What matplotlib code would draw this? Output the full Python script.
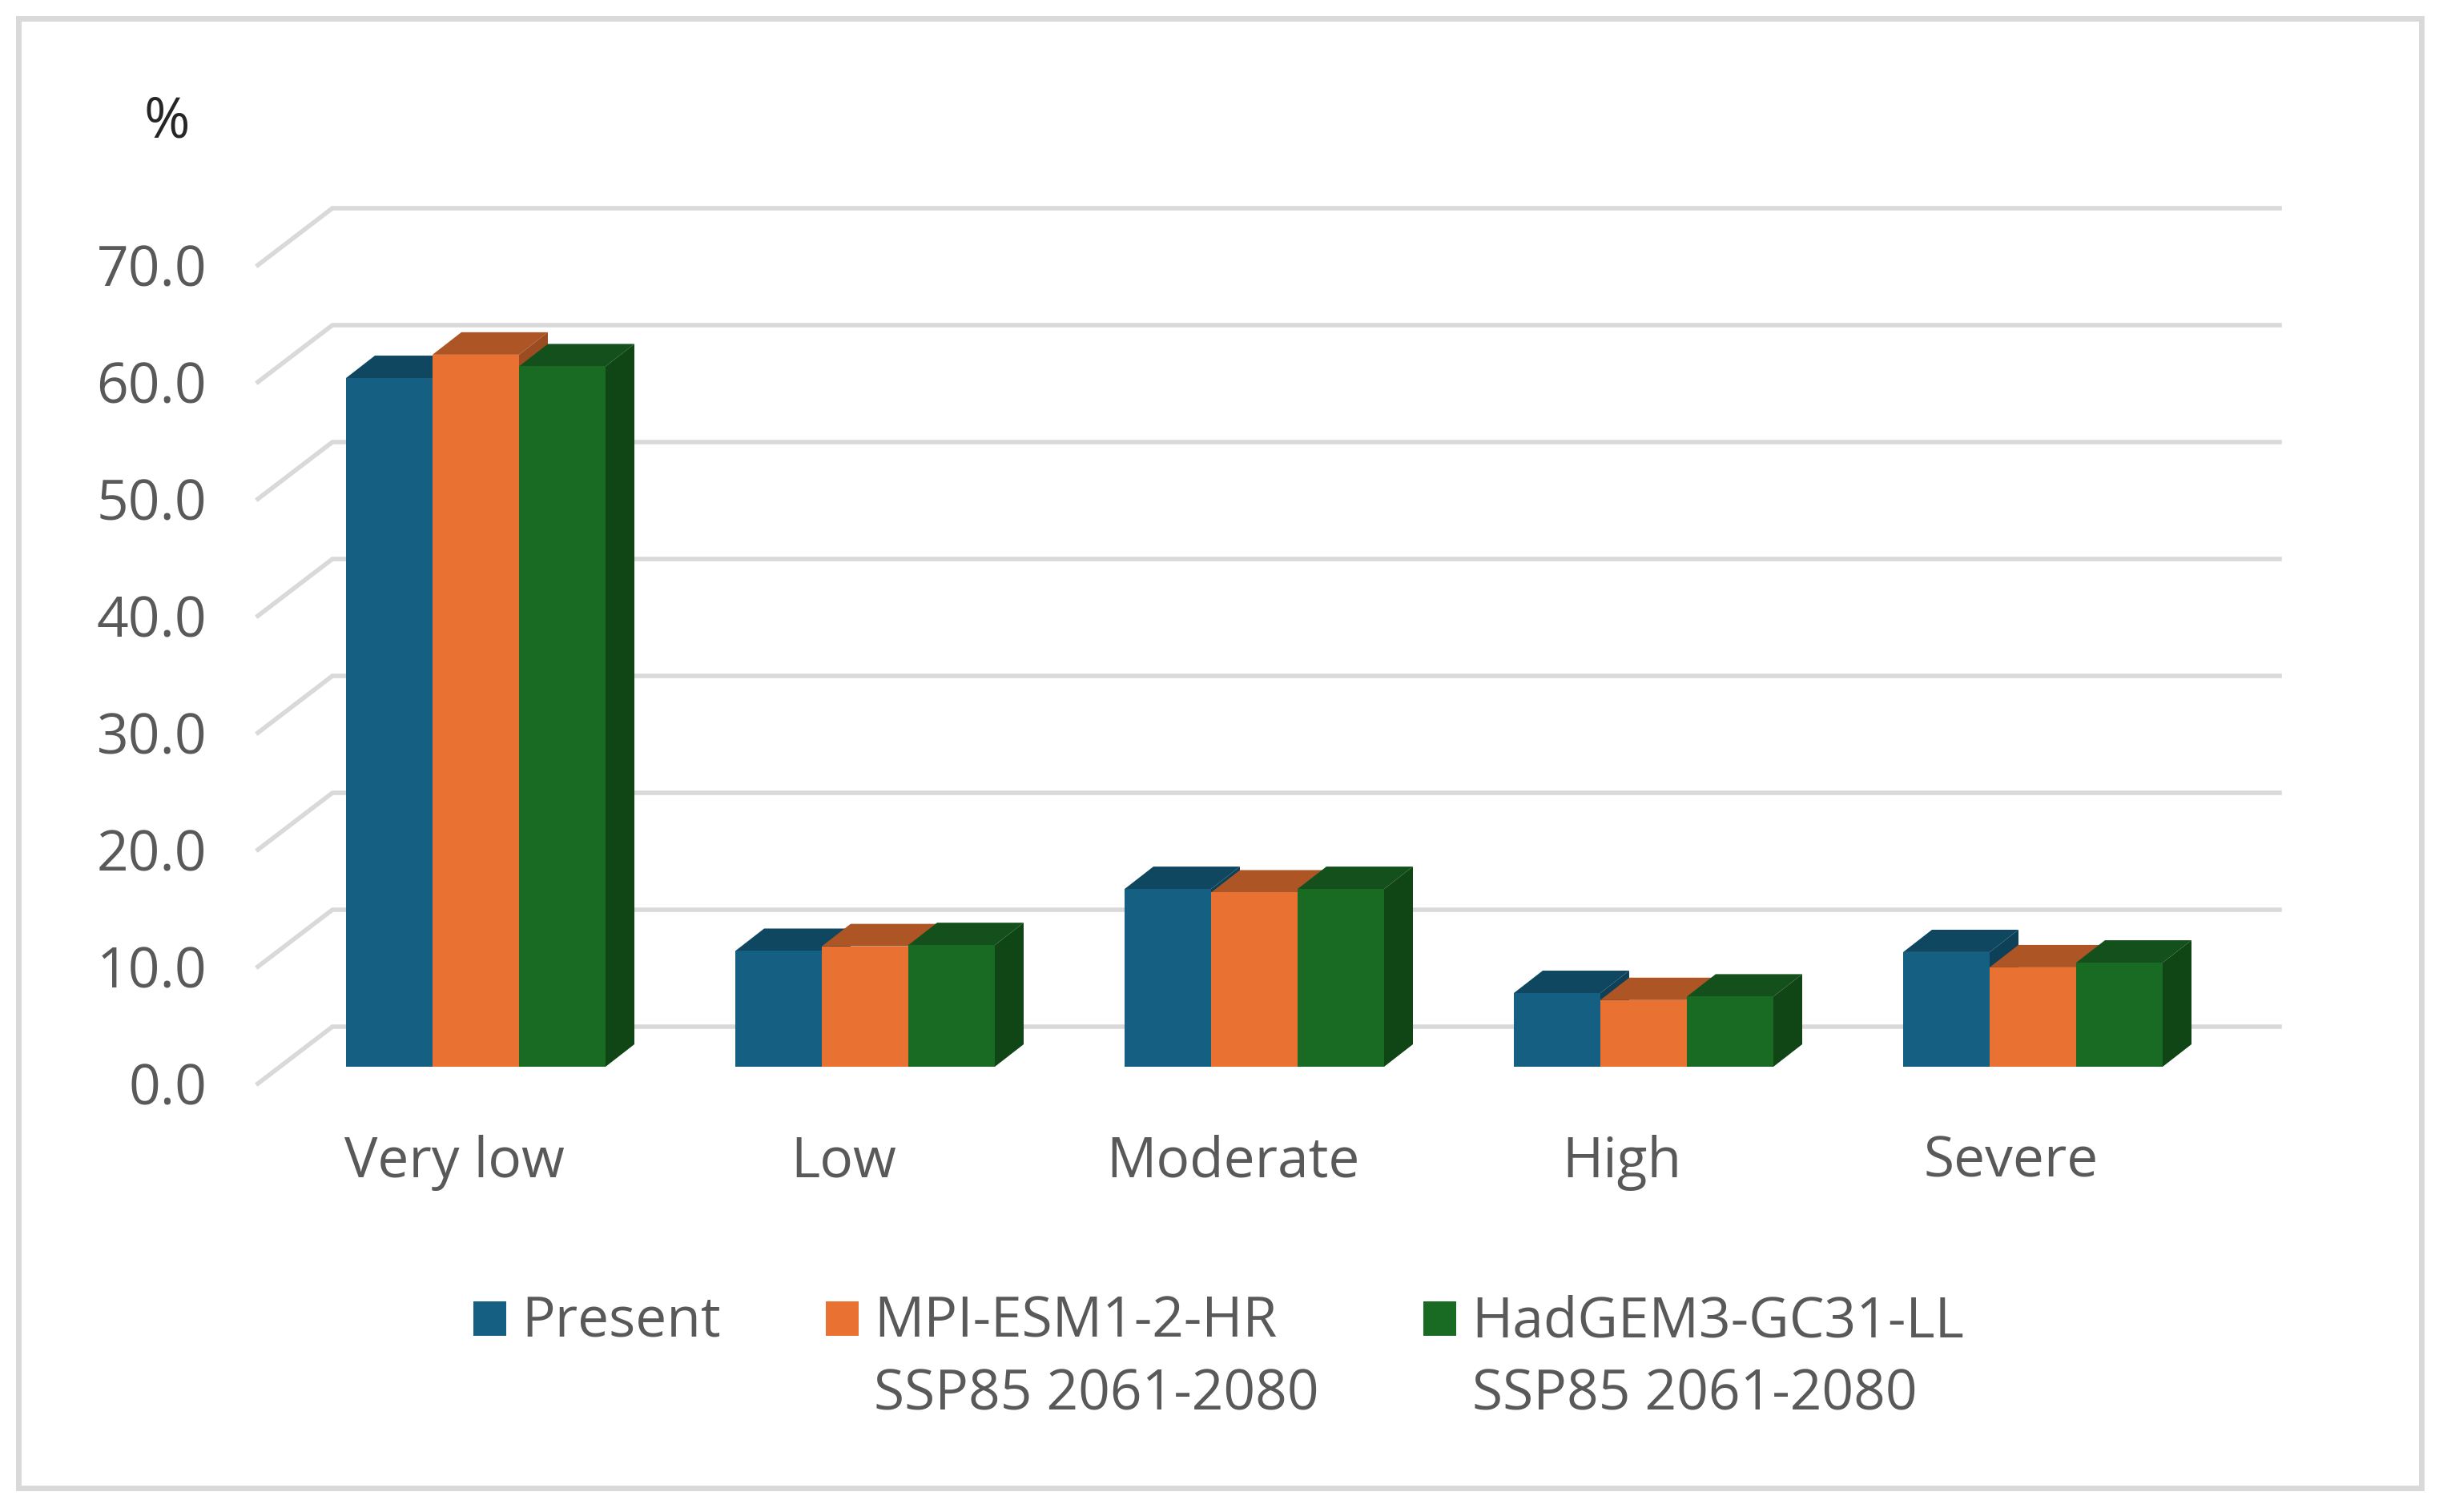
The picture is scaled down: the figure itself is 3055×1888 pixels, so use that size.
import matplotlib
matplotlib.use("Agg")
import matplotlib.pyplot as plt
from matplotlib.patches import Polygon, Rectangle
from matplotlib.legend_handler import HandlerPatch
import numpy as np

categories = ["Very low", "Low", "Moderate", "High", "Severe"]
present = [58.9, 9.9, 15.2, 6.3, 9.8]
mpi = [60.9, 10.3, 14.9, 5.7, 8.5]
hadgem = [59.9, 10.4, 15.2, 6.0, 8.9]
series_labels = ["Present\n ", "MPI-ESM1-2-HR\nSSP85 2061-2080", "HadGEM3-GC31-LL\nSSP85 2061-2080"]
y_ticks = [0, 10, 20, 30, 40, 50, 60, 70]
colors = ["#156082", "#E97132", "#196B24"]
tops = ["#0F4761", "#AE5525", "#13501B"]
sides = ["#0E4157", "#9C4C21", "#104516"]

W, H = 3055, 1888
plt.rcParams["font.family"] = ["Open Sans", "DejaVu Sans"]
FS = 50
TXT = "#595959"
GRID = "#D9D9D9"

fig = plt.figure(figsize=(W / 100, H / 100), dpi=100, facecolor="white")
L, R, B, T = 322, 2846, 1353, 259
ax = fig.add_axes([L / W, 1 - B / H, (R - L) / W, (B - T) / H])
PX_X = 486.0
PX_Y = 14.6
ax.set_xlim((L - 594) / PX_X, (R - 594) / PX_X)
ax.set_ylim((1332 - B) / PX_Y, (1332 - T) / PX_Y)
ax.patch.set_alpha(0)
for s in ax.spines.values():
    s.set_visible(False)

floor_front = (1332 - B) / PX_Y
wall = 50 / PX_Y
wall_dx = 93 / PX_X
bar_dx = 36 / PX_X
bar_dy = 28 / PX_Y
bar_w = 1 / 4.5

x0, x1 = ax.get_xlim()
for v in y_ticks:
    ax.plot([x0, x0 + wall_dx, x1], [v + floor_front, v + wall, v + wall],
            color=GRID, lw=4, solid_joinstyle="miter", zorder=1, clip_on=False)

x = np.arange(len(categories))
series = [present, mpi, hadgem]
handles = []
z = 2.0
for i in x:
    for j, vals in enumerate(series):
        left = i + (j - 1.5) * bar_w
        v = vals[i]
        ax.add_patch(Polygon([(left, v), (left + bar_w, v), (left + bar_w + bar_dx, v + bar_dy), (left + bar_dx, v + bar_dy)],
                             closed=True, fc=tops[j], ec="none", zorder=z))
        ax.add_patch(Polygon([(left + bar_w, 0), (left + bar_w + bar_dx, bar_dy), (left + bar_w + bar_dx, v + bar_dy), (left + bar_w, v)],
                             closed=True, fc=sides[j], ec="none", zorder=z))
        b = ax.bar(left, v, width=bar_w, align="edge", color=colors[j], zorder=z + 0.5)
        if i == 0:
            handles.append(b[0])
        z += 1

ax.set_yticks([v + floor_front for v in y_ticks], [f"{v:.1f}" for v in y_ticks])
ax.set_xticks(x - 27 / PX_X, categories)
ax.tick_params(axis="y", length=0, pad=46, labelsize=FS, labelcolor=TXT)
ax.tick_params(axis="x", length=0, pad=46, labelsize=FS, labelcolor=TXT)

fig.text(208 / W, 1 - 154 / H, "%", ha="center", va="center", fontsize=50, color="#262626")


def first_line_patch(legend, orig_handle, xdescent, ydescent, width, height, fontsize):
    return Rectangle((-xdescent, -ydescent + 38), width, height)


leg = fig.legend(handles, series_labels, loc="upper left", bbox_to_anchor=(591 / W, 1 - 1617 / H),
                 bbox_transform=fig.transFigure, ncols=3, frameon=False, fontsize=FS,
                 labelcolor=TXT, handlelength=0.59, handleheight=0.576, handletextpad=0.28,
                 columnspacing=1.88, borderpad=0, borderaxespad=0,
                 handler_map={h: HandlerPatch(patch_func=first_line_patch) for h in handles})
for t in leg.get_texts():
    t.set_linespacing(1.39)

fig.add_artist(Rectangle((23 / W, 1 - 1858 / H), 3000 / W, 1835 / H, transform=fig.transFigure,
                         fc="none", ec=GRID, lw=5))
fig.savefig("out.png", dpi=100, facecolor="white")
